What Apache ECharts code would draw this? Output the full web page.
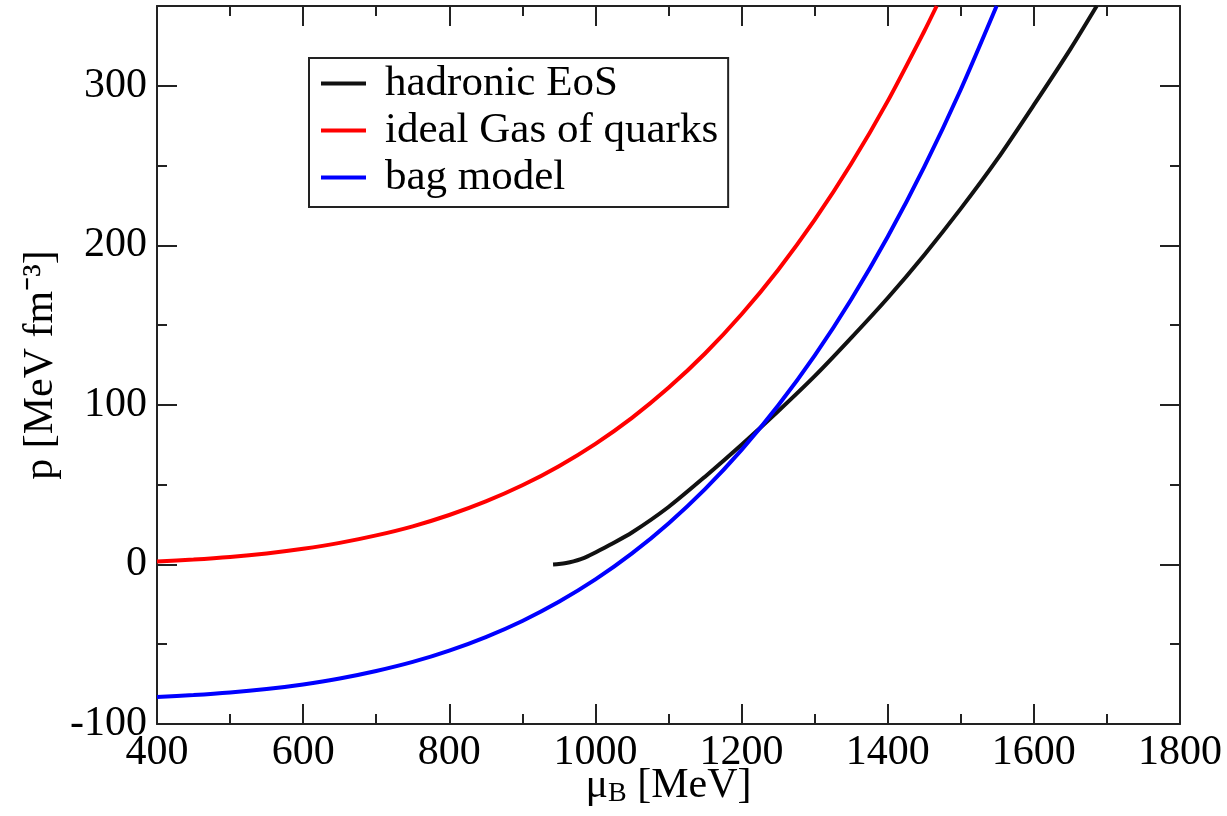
<!DOCTYPE html>
<html>
<head>
<meta charset="utf-8">
<script src="https://cdn.jsdelivr.net/npm/echarts@6/dist/echarts.min.js"></script>
<style>
html,body{margin:0;padding:0;background:#fff;}
#chart{width:1227px;height:816px;}
</style>
</head>
<body>
<div id="chart"></div>
<script>
// ---- data ----
const seriesNames = ['hadronic EoS', 'ideal Gas of quarks', 'bag model'];
const seriesColors = ['#111111', '#ff0000', '#0000ff'];

const hadMu = [942, 950, 960, 970, 980, 990, 1000, 1020, 1050, 1100, 1150, 1200, 1250, 1300, 1350, 1400, 1450, 1500, 1550, 1600, 1650, 1686];
const hadP  = [0, 0.3, 0.9, 1.9, 3.3, 5.2, 7.5, 12.3, 20, 36, 55, 75, 96, 118, 142, 167, 194, 223, 254, 288, 323, 350];

const quarkMu = [400, 450, 500, 550, 600, 650, 700, 750, 800, 850, 900, 950, 1000, 1050, 1100, 1150, 1200, 1250, 1300, 1350, 1400, 1450, 1467];
const quarkP  = [1.9, 3.1, 4.7, 6.9, 9.8, 13.5, 18.2, 23.9, 31.0, 39.5, 49.6, 61.6, 75.6, 91.9, 110.7, 132.2, 156.8, 184.6, 215.9, 251.1, 290.4, 334.2, 350];

const bagMu = [400, 450, 500, 550, 600, 650, 700, 750, 800, 850, 900, 950, 1000, 1050, 1100, 1150, 1200, 1250, 1300, 1350, 1400, 1450, 1500, 1549];
const bagP  = [-83.1, -81.9, -80.3, -78.1, -75.2, -71.5, -66.8, -61.1, -54.0, -45.5, -35.4, -23.4, -9.4, 6.9, 25.7, 47.2, 71.8, 99.6, 130.9, 166.1, 205.4, 249.2, 297.7, 350];

const xTicks = {min: 400, max: 1800, interval: 200};
const yTicks = {min: -100, max: 350, interval: 100};

// ---- chart ----
const font = 'Liberation Serif';
const pair = (xs, ys) => xs.map((x, i) => [x, ys[i]]);

const axisCommon = {
  axisLine: {show: true, onZero: false, lineStyle: {color: '#222', width: 2}},
  axisTick: {show: true, inside: true, length: 20, lineStyle: {color: '#222', width: 2}},
  minorTick: {show: true, splitNumber: 2, length: 10, lineStyle: {color: '#222', width: 2}},
  splitLine: {show: false},
  minorSplitLine: {show: false},
  nameMoveOverlap: false
};

const chart = echarts.init(document.getElementById('chart'), null, {renderer: 'canvas'});
chart.setOption({
  backgroundColor: '#ffffff',
  animation: false,
  textStyle: {fontFamily: font},
  grid: {left: 157, right: 47, top: 6, bottom: 92, containLabel: false, outerBoundsMode: 'none'},
  legend: {
    show: true,
    left: 309, top: 58,
    orient: 'vertical',
    data: seriesNames,
    icon: 'rect',
    itemWidth: 45, itemHeight: 4,
    itemGap: 4,
    padding: [4, 10, 8, 12],
    borderColor: '#222', borderWidth: 2, borderRadius: 0,
    backgroundColor: '#fff',
    textStyle: {fontFamily: font, fontSize: 43, color: '#000', padding: [0, 0, 0, 14]}
  },
  xAxis: [
    Object.assign({
      type: 'value', position: 'bottom',
      min: xTicks.min, max: xTicks.max, interval: xTicks.interval,
      axisLabel: {show: true, fontFamily: font, fontSize: 42, color: '#000', margin: 8,
                  showMinLabel: true, showMaxLabel: true, formatter: v => String(v)},
      name: '{m|μ}{s|B}{m| [MeV]}',
      nameLocation: 'middle', nameGap: 40,
      nameTextStyle: {
        fontFamily: font, fontSize: 42, color: '#000',
        rich: {
          m: {fontFamily: font, fontSize: 42, color: '#000'},
          s: {fontFamily: font, fontSize: 28, color: '#000', padding: [16, 0, 0, 0]}
        }
      }
    }, axisCommon),
    Object.assign({
      type: 'value', position: 'top',
      min: xTicks.min, max: xTicks.max, interval: xTicks.interval,
      axisLabel: {show: false}
    }, axisCommon)
  ],
  yAxis: [
    Object.assign({
      type: 'value', position: 'left',
      min: yTicks.min, max: yTicks.max, interval: yTicks.interval,
      axisLabel: {show: true, fontFamily: font, fontSize: 42, color: '#000', margin: 10,
                  showMaxLabel: false, formatter: v => String(v)},
      name: 'p [MeV fm⁻³]',
      nameLocation: 'middle', nameGap: 95, nameRotate: 90,
      nameTextStyle: {fontFamily: font, fontSize: 42, color: '#000'}
    }, axisCommon),
    Object.assign({
      type: 'value', position: 'right',
      min: yTicks.min, max: yTicks.max, interval: yTicks.interval,
      axisLabel: {show: false}
    }, axisCommon)
  ],
  series: [
    {name: seriesNames[0], type: 'line', data: pair(hadMu, hadP), showSymbol: false, symbol: 'none',
     smooth: 0.25, clip: true, z: 2,
     lineStyle: {color: seriesColors[0], width: 4}, itemStyle: {color: seriesColors[0]}},
    {name: seriesNames[1], type: 'line', data: pair(quarkMu, quarkP), showSymbol: false, symbol: 'none',
     smooth: 0.25, clip: true, z: 3,
     lineStyle: {color: seriesColors[1], width: 4}, itemStyle: {color: seriesColors[1]}},
    {name: seriesNames[2], type: 'line', data: pair(bagMu, bagP), showSymbol: false, symbol: 'none',
     smooth: 0.25, clip: true, z: 4,
     lineStyle: {color: seriesColors[2], width: 4}, itemStyle: {color: seriesColors[2]}}
  ]
});
</script>
</body>
</html>
